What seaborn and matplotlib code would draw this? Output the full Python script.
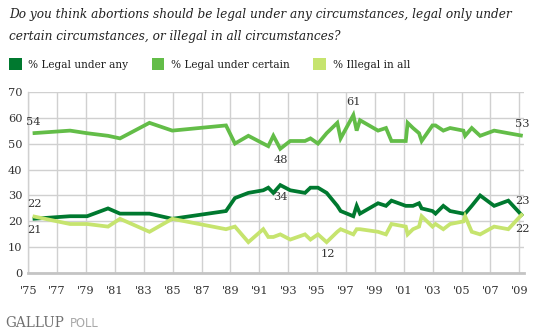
import matplotlib
matplotlib.use("Agg")
import matplotlib.pyplot as plt
from matplotlib.patches import Rectangle
import pandas as pd
import seaborn as sns

# Survey dates (decimal years) and the share of respondents in each group
survey_dates = [1975.30, 1977.89, 1979.07, 1980.52, 1981.35, 1983.39, 1984.97,
                1988.69, 1989.31, 1990.24, 1991.27, 1991.62, 1991.97, 1992.45,
                1993.14, 1994.16, 1994.54, 1995.06, 1995.66, 1996.40, 1996.63,
                1997.51, 1997.74, 1997.97, 1999.22, 1999.77, 2000.15, 2001.14,
                2001.27, 2001.64, 2002.06, 2002.24, 2002.99, 2003.20, 2003.74,
                2004.21, 2005.13, 2005.25, 2005.71, 2006.29, 2007.26, 2008.24,
                2009.24]
legal_any = [21, 22, 22, 25, 23, 23, 21,
             24, 29, 31, 32, 33, 31, 34,
             32, 31, 33, 33, 31, 26, 24,
             22, 26, 23, 27, 26, 28, 26,
             26, 26, 27, 25, 24, 23, 26,
             24, 23, 23, 26, 30, 26, 28,
             22]
legal_certain = [54, 55, 54, 53, 52, 58, 55,
                 57, 50, 53, 50, 49, 53, 48,
                 51, 51, 52, 50, 54, 58, 52,
                 61, 55, 59, 55, 56, 51, 51,
                 58, 56, 54, 51, 57, 57, 55,
                 56, 55, 53, 56, 53, 55, 54,
                 53]
illegal_all = [22, 19, 19, 18, 21, 16, 21,
               17, 18, 12, 17, 14, 14, 15,
               13, 15, 13, 15, 12, 16, 17,
               15, 17, 17, 16, 15, 19, 18,
               15, 17, 18, 22, 18, 19, 17,
               19, 20, 22, 16, 15, 18, 17,
               23]

series_names = ["% Legal under any", "% Legal under certain", "% Illegal in all"]
series_colors = ["#00792f", "#63bd48", "#c6e46e"]

year_ticks = list(range(1975, 2010, 2))
year_labels = ["'%02d" % (y % 100) for y in year_ticks]
value_ticks = [0, 10, 20, 30, 40, 50, 60, 70]

title_lines = ["Do you think abortions should be legal under any circumstances, legal only under",
               "certain circumstances, or illegal in all circumstances?"]

df = pd.DataFrame({
    "date": survey_dates * 3,
    "pct": legal_any + legal_certain + illegal_all,
    "series": [series_names[0]] * len(survey_dates)
              + [series_names[1]] * len(survey_dates)
              + [series_names[2]] * len(survey_dates),
})

sns.set_theme(style="white")
plt.rcParams["font.family"] = ["DejaVu Serif"]

W, H = 535, 335
fig = plt.figure(figsize=(W / 100, H / 100), dpi=100)
fig.patch.set_facecolor("white")

left_px, right_px, top_px, bottom_px = 28.3, 523.6, 91.7, 273.3
ax = fig.add_axes([left_px / W, 1 - bottom_px / H,
                   (right_px - left_px) / W, (bottom_px - top_px) / H])

sns.lineplot(data=df, x="date", y="pct", hue="series", hue_order=series_names,
             palette=series_colors, linewidth=2.7, ax=ax, legend=False,
             estimator=None, sort=True)
for ln in ax.lines:
    ln.set_solid_joinstyle("miter")
    ln.set_solid_capstyle("butt")

ax.set_xlim(1975, 2009.3)
ax.set_ylim(0, 70)
ax.set_xticks(year_ticks)
ax.set_xticklabels(year_labels)
ax.set_yticks(value_ticks)
ax.set_xlabel("")
ax.set_ylabel("")
ax.grid(True, color="#d0d0d0", linewidth=1.0)
ax.set_axisbelow(True)
ax.tick_params(axis="both", length=0, labelsize=8.2, labelcolor="#333333")
ax.tick_params(axis="x", pad=9)
ax.tick_params(axis="y", pad=4.2)
for side in ("top", "right"):
    ax.spines[side].set_visible(False)
ax.spines["left"].set_color("#d0d0d0")
ax.spines["left"].set_linewidth(1.0)
ax.spines["bottom"].set_color("#c4c4c4")
ax.spines["bottom"].set_linewidth(2.0)

# Value callouts at the first, last and extreme readings
callouts = [
    (legal_certain, 0, 11, "left", -6.5),
    (illegal_all, 0, 12, "left", -5.5),
    (legal_any, 0, -11, "left", -5.5),
    (legal_certain, 13, -11.5, "center", 0.5),
    (legal_any, 13, -12, "center", 0.5),
    (legal_certain, 21, 13.5, "center", 0.5),
    (illegal_all, 18, -12, "center", 0.8),
    (legal_certain, 42, 12, "center", -0.5),
    (illegal_all, 42, 12.5, "center", -0.5),
    (legal_any, 42, -13, "center", -0.5),
]
for values, i, dy, ha, dx in callouts:
    ax.annotate(str(values[i]), xy=(survey_dates[i], values[i]),
                xytext=(dx, dy), textcoords="offset pixels",
                ha=ha, va="center", fontsize=8.2, color="#333333",
                annotation_clip=False)

# Question text
for k, line in enumerate(title_lines):
    fig.text(9 / W, 1 - (18.3 + 22 * k) / H, line, ha="left", va="baseline",
             fontsize=8.75, fontstyle="italic", color="#222222")

# Legend swatches
legend_x = [(9.3, 28), (151.7, 170.7), (313.3, 333)]
for (sx, tx), name, col in zip(legend_x, series_names, series_colors):
    fig.patches.append(Rectangle((sx / W, 1 - 70 / H), 12.3 / W, 12.3 / H,
                                 transform=fig.transFigure, facecolor=col,
                                 edgecolor="none"))
    fig.text(tx / W, 1 - 67.5 / H, name, ha="left", va="baseline",
             fontsize=7.6, color="#222222")

# Source mark
fig.text(5 / W, 1 - 327 / H, "GALLUP", ha="left", va="baseline",
         fontsize=9.8, color="#707070")
fig.text(70 / W, 1 - 327 / H, "POLL", ha="left", va="baseline",
         fontsize=8.3, color="#a8a8a8", family="DejaVu Sans")

fig.savefig("out.png", dpi=100, facecolor="white")
